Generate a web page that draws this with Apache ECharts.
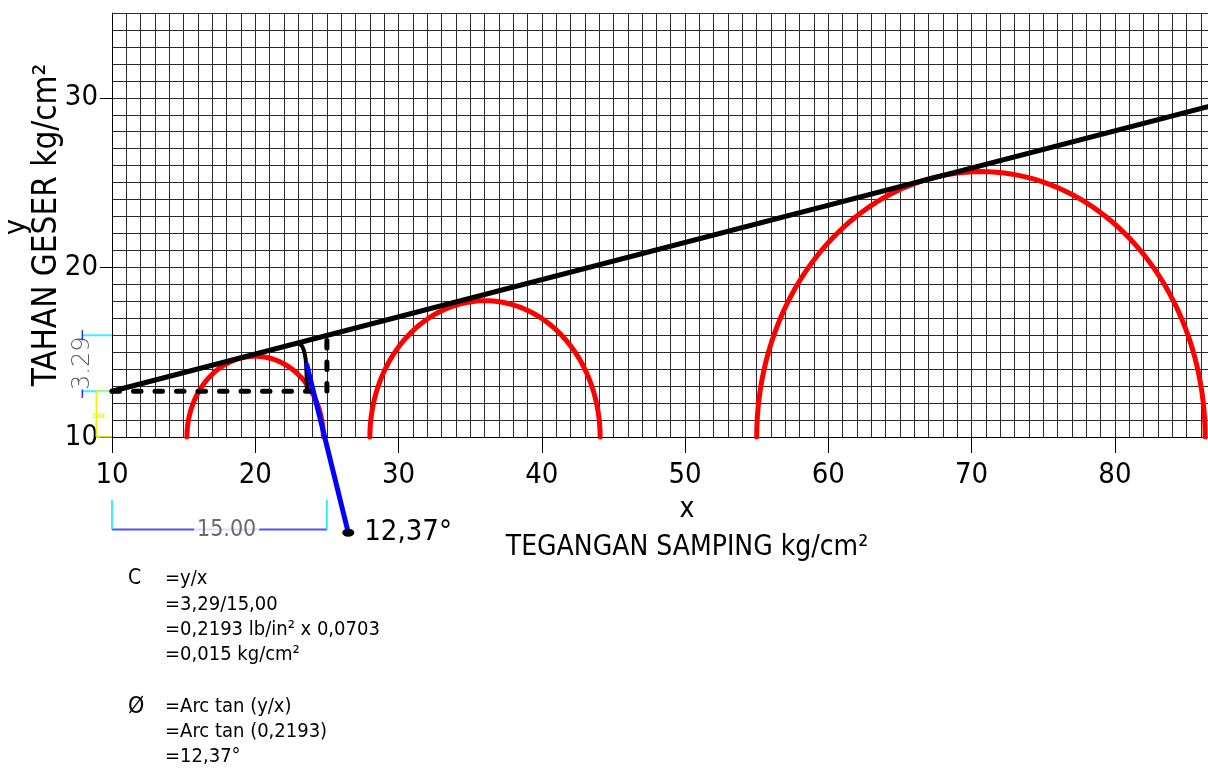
<!DOCTYPE html>
<html><head><meta charset="utf-8">
<script src="https://cdn.jsdelivr.net/npm/echarts/dist/echarts.min.js"></script>
<style>html,body{margin:0;padding:0;background:#fff}#c{width:1208px;height:769px}</style>
</head><body><div id="c"></div>
<script>
// ---- data ----
const xTickLabels = [10, 20, 30, 40, 50, 60, 70, 80];
const yTickLabels = [10, 20, 30];
const sigma3 = [15.23, 28.0, 55.0];          // left foot of each Mohr circle
const sigma1 = [24.75, 44.07, 86.3];         // right foot of each Mohr circle
const circleBase = 10;                       // circles sit on the y = 10 line
const envelopeX = [10, 86.5];
const envelopeY = [12.7, 29.48];
const cohesionDashX = [10, 25, 25];
const cohesionDashY = [12.7, 12.7, 16.0];
const angleArcX = [23.05, 23.3, 23.45, 23.55, 23.6];
const angleArcY = [15.55, 15.3, 14.9, 14.3, 12.8];
const angleLeaderX = [23.6, 26.49];
const angleLeaderY = [14.26, 4.36];
const angleLabel = '12,37°';
// dimension "15.00" (horizontal, below the axis)
const dimHX = [10, 25];
const dimHY = [4.54, 4.54];
const dimHTickY = [6.3, 4.54];
const dimHText = '15.00';
// dimension "3.29" (vertical, left of the axis)
const dimVX = [7.93, 10];
const dimVY = [16.0, 12.7];
const dimVText = '3.29';
// small yellow dimension "2.69"
const dimYX = [8.9, 10];
const dimYY = [12.7, 10];
const dimYText = '2.69';
const formulaC = ['=y/x', '=3,29/15,00', '=0,2193 lb/in² x 0,0703', '=0,015 kg/cm²'];
const formulaPhi = ['=Arc tan (y/x)', '=Arc tan (0,2193)', '=12,37°'];

const zip = (xs, ys) => xs.map((x, i) => [x, ys[i]]);
const FONT = 'DejaVu Sans Condensed';

function lineSeries(data, color, width, extra) {
  return Object.assign({
    type: 'line', data: data, symbol: 'none', clip: false, silent: true, animation: false,
    lineStyle: { color: color, width: width, cap: 'round', join: 'round' }
  }, extra || {});
}
// straight segments [x1, y1, x2, y2] drawn through the axes' scales
function segSeries(segs, color, width, z) {
  return {
    type: 'custom', clip: false, silent: true, animation: false, z: z || 2, data: segs,
    renderItem: function (p, api) {
      const a = api.coord([api.value(0), api.value(1)]);
      const b = api.coord([api.value(2), api.value(3)]);
      return { type: 'line', shape: { x1: a[0], y1: a[1], x2: b[0], y2: b[1] },
        style: { stroke: color, lineWidth: width } };
    }
  };
}

const chart = echarts.init(document.getElementById('c'), null, { renderer: 'canvas' });

const series = [];
// Mohr circles
series.push({
  type: 'custom', animation: false, silent: true, clip: false,
  data: sigma3.map((s, i) => [s, sigma1[i]]),
  renderItem: function (params, api) {
    const s3 = api.value(0), s1 = api.value(1);
    const c = (s3 + s1) / 2, r = (s1 - s3) / 2;
    const pts = [];
    for (let k = 0; k <= 90; k++) {
      const t = Math.PI * k / 90;
      pts.push(api.coord([c - r * Math.cos(t), circleBase + r * Math.sin(t)]));
    }
    return { type: 'polyline', shape: { points: pts },
      style: { stroke: '#ff0000', lineWidth: 5, fill: null, lineCap: 'round' } };
  }
});
// dashed cohesion construction
series.push(lineSeries(zip(cohesionDashX, cohesionDashY), '#000', 5,
  { lineStyle: { color: '#000', width: 5, type: [7.5, 14], cap: 'round' } }));
// angle arc
series.push(lineSeries(zip(angleArcX, angleArcY), '#000', 4, { smooth: 0.5 }));
// failure envelope
series.push(lineSeries(zip(envelopeX, envelopeY), '#000', 5, { clip: true }));
// angle leader
series.push(lineSeries(zip(angleLeaderX, angleLeaderY), '#0000ff', 5));
series.push({
  type: 'scatter', z: 5, data: [zip(angleLeaderX, angleLeaderY)[1]], symbol: 'circle', symbolSize: [12, 8],
  clip: false, silent: true, animation: false, itemStyle: { color: '#000', opacity: 1 },
  label: { show: true, position: 'right', distance: 10, formatter: angleLabel,
    fontFamily: FONT, fontSize: 29, color: '#000', opacity: 1 }
});
// dimension 15.00
series.push(segSeries([[dimHX[0], dimHY[0], dimHX[1], dimHY[1]]], '#5050ff', 2));
series.push(segSeries([[dimHX[0], dimHTickY[0], dimHX[0], dimHTickY[1]],
                       [dimHX[1], dimHTickY[0], dimHX[1], dimHTickY[1]]], '#00e8ff', 1.5));
series.push({
  type: 'scatter', z: 4, data: [[(dimHX[0] + dimHX[1]) / 2 + 0.5, dimHY[0]]], symbolSize: 1, clip: false,
  silent: true, animation: false, itemStyle: { color: 'rgba(0,0,0,0)' },
  label: { show: true, position: 'inside', formatter: dimHText, fontFamily: FONT, fontSize: 23,
    color: '#444', backgroundColor: '#fff', padding: [0, 3] }
});
// dimension 3.29
series.push(segSeries([[dimVX[0], dimVY[0], dimVX[1], dimVY[0]],
                       [dimVX[0], dimVY[1], dimVX[1], dimVY[1]]], '#40f0ff', 2));
series.push(segSeries([[dimVX[0], dimVY[0] + 0.3, dimVX[0], dimVY[0] - 0.3],
                       [dimVX[0], dimVY[1] + 0.1, dimVX[0], dimVY[1] - 0.4]], '#2030ff', 1.5));
series.push({
  type: 'scatter', data: [[dimVX[0], (dimVY[0] + dimVY[1]) / 2]], symbolSize: 1, clip: false,
  silent: true, animation: false, itemStyle: { color: 'rgba(0,0,0,0)' },
  label: { show: true, position: 'inside', rotate: 90, formatter: dimVText, fontFamily: 'DejaVu Sans',
    fontWeight: 200, fontSize: 24, color: '#333' }
});
// yellow dimension
series.push(segSeries([[dimYX[0], dimYY[0], dimYX[0], dimYY[1]],
                       [dimYX[0], dimYY[0], dimYX[1], dimYY[0]]], '#f2f200', 1.5));
series.push(segSeries([[dimYX[0], dimYY[1], dimYX[1], dimYY[1]]], '#c8c800', 1.5));
series.push({
  type: 'scatter', data: [[dimYX[0] + 0.15, 11.2]], symbolSize: 1, clip: false,
  silent: true, animation: false, itemStyle: { color: 'rgba(0,0,0,0)' },
  label: { show: true, position: 'inside', formatter: dimYText, fontFamily: FONT,
    fontSize: 6, fontWeight: 'bold', color: '#e8e800' }
});

const graphics = [
  { type: 'text', x: 687, y: 510, style: { text: 'x', font: '28px "' + FONT + '"', fill: '#000', align: 'center', verticalAlign: 'middle' } },
  { type: 'text', x: 687, y: 548, style: { text: 'TEGANGAN SAMPING kg/cm²', font: '28px "' + FONT + '"', fill: '#000', align: 'center', verticalAlign: 'middle' } },
  { type: 'text', x: 17, y: 227, rotation: Math.PI / 2, style: { text: 'y', font: '30px "' + FONT + '"', fill: '#000', align: 'center', verticalAlign: 'middle' } },
  { type: 'text', x: 47, y: 225, rotation: Math.PI / 2, style: { text: 'TAHAN GESER kg/cm²', font: '33px "' + FONT + '"', fill: '#000', align: 'center', verticalAlign: 'middle' } },
  { type: 'text', x: 128, y: 579, style: { text: 'C', font: '21px "' + FONT + '"', fill: '#000', verticalAlign: 'middle' } },
  { type: 'text', x: 128, y: 707, style: { text: 'Ø', font: '23px "' + FONT + '"', fill: '#000', verticalAlign: 'middle' } }
];
const cY = [579, 605, 630, 655];
formulaC.forEach((t, i) => graphics.push({ type: 'text', x: 165, y: cY[i],
  style: { text: t, font: '20px "' + FONT + '"', fill: '#000', verticalAlign: 'middle' } }));
const pY = [707, 732, 757];
formulaPhi.forEach((t, i) => graphics.push({ type: 'text', x: 165, y: pY[i],
  style: { text: t, font: '20px "' + FONT + '"', fill: '#000', verticalAlign: 'middle' } }));

const gridLine = { show: true, lineStyle: { color: '#2a2a2a', width: 1 } };
chart.setOption({
  animation: false,
  backgroundColor: '#fff',
  grid: { left: 112, top: 13, width: 1096, height: 424, containLabel: false },
  xAxis: [{
    type: 'value', min: 10, max: 86.5, interval: 10, position: 'bottom',
    axisLine: { show: true, onZero: false, lineStyle: { color: '#000', width: 1 } },
    axisTick: { show: true, customValues: xTickLabels, length: 16, lineStyle: { color: '#000', width: 1 } },
    axisLabel: { show: true, customValues: xTickLabels, margin: 24, fontFamily: FONT, fontSize: 29, color: '#000' },
    splitLine: { show: false }
  }, {
    type: 'value', min: 10, max: 86.5, interval: 1, position: 'top',
    axisLine: { show: false }, axisTick: { show: false }, axisLabel: { show: false },
    splitLine: gridLine
  }],
  yAxis: [{
    type: 'value', min: 10, max: 35, interval: 10, position: 'left',
    axisLine: { show: true, onZero: false, lineStyle: { color: '#000', width: 1 } },
    axisTick: { show: true, customValues: yTickLabels, length: 12, lineStyle: { color: '#000', width: 1 } },
    axisLabel: { show: true, customValues: yTickLabels, margin: 14, fontFamily: FONT, fontSize: 29, color: '#000' },
    splitLine: { show: false }
  }, {
    type: 'value', min: 10, max: 35, interval: 1, position: 'right',
    axisLine: { show: false }, axisTick: { show: false }, axisLabel: { show: false },
    splitLine: gridLine
  }],
  series: series,
  graphic: graphics
});
</script>
</body></html>
